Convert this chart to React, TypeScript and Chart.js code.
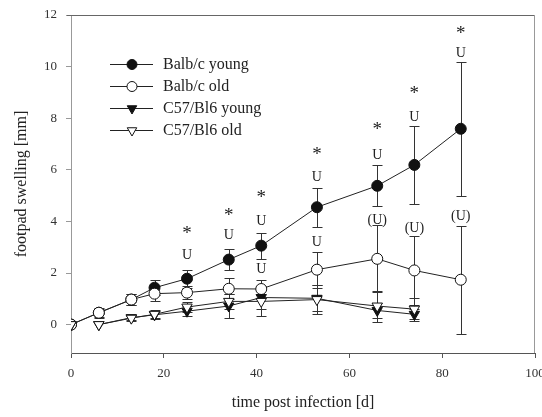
import React, { useEffect, useRef } from "react";
import { Chart, registerables } from "chart.js";

Chart.register(...registerables);

const FONT = "'Liberation Serif', 'Times New Roman', serif";

// ---- data ----
const balbDays = [0, 6, 13, 18, 25, 34, 41, 53, 66, 74, 84];
const balbYoung = [0, 0.46, 0.97, 1.43, 1.78, 2.52, 3.06, 4.55, 5.38, 6.19, 7.59];
const balbYoungErr = [0, 0.2, 0.2, 0.3, 0.35, 0.4, 0.5, 0.75, 0.8, 1.5, 2.6];
const balbOld = [0, 0.46, 0.97, 1.2, 1.24, 1.39, 1.38, 2.13, 2.55, 2.1, 1.74];
const balbOldErr = [0, 0.15, 0.2, 0.3, 0.25, 0.4, 0.35, 0.7, 1.3, 1.35, 2.1];

const c57Days = [0, 6, 13, 18, 25, 34, 41, 53, 66, 74];
const c57Young = [0, 0, 0.27, 0.38, 0.52, 0.72, 1.05, 1.02, 0.55, 0.4];
const c57YoungErr = [0, 0, 0.1, 0.15, 0.2, 0.45, 0.45, 0.5, 0.3, 0.2];
const c57Old = [0, 0, 0.25, 0.4, 0.68, 0.9, 0.9, 0.97, 0.72, 0.6];
const c57OldErr = [0, 0, 0.1, 0.15, 0.2, 0.3, 0.55, 0.55, 0.6, 0.45];

const seriesNames = ["Balb/c young", "Balb/c old", "C57/Bl6 young", "C57/Bl6 old"];

// significance marks
const starDays = [25, 34, 41, 53, 66, 74, 84];
const starLevels = [3.68, 4.37, 5.07, 6.74, 7.7, 9.1, 11.4];
const youngMarkLevels = [2.7, 3.48, 3.99, 5.69, 6.58, 8.05, 10.5];
const youngMarkLabels = ["U", "U", "U", "U", "U", "U", "U"];
const oldMarkDays = [41, 53, 66, 74, 84];
const oldMarkLevels = [2.15, 3.2, 4.05, 3.72, 4.18];
const oldMarkLabels = ["U", "U", "(U)", "(U)", "(U)"];

const xTicks = [0, 20, 40, 60, 80, 100];
const yTicks = [0, 2, 4, 6, 8, 10, 12];

const errorSets = [balbYoungErr, balbOldErr, c57YoungErr, c57OldErr];
const markerSpecs = [
  { shape: "circle", fill: "#111" },
  { shape: "circle", fill: "#fff" },
  { shape: "tri", fill: "#111" },
  { shape: "tri", fill: "#fff" },
];

function drawMarker(ctx: CanvasRenderingContext2D, shape: string, fill: string, x: number, y: number, r: number) {
  ctx.beginPath();
  if (shape === "circle") {
    ctx.arc(x, y, r, 0, Math.PI * 2);
  } else {
    let rad = Math.PI; // pointing down
    ctx.moveTo(x + Math.sin(rad) * r, y - Math.cos(rad) * r);
    rad += (2 * Math.PI) / 3;
    ctx.lineTo(x + Math.sin(rad) * r, y - Math.cos(rad) * r);
    rad += (2 * Math.PI) / 3;
    ctx.lineTo(x + Math.sin(rad) * r, y - Math.cos(rad) * r);
    ctx.closePath();
  }
  ctx.fillStyle = fill;
  ctx.fill();
  ctx.strokeStyle = "#111";
  ctx.lineWidth = 1;
  ctx.stroke();
}

const customPlugin = {
  id: "customDecor",
  beforeDatasetsDraw(chart: any) {
    const ctx = chart.ctx as CanvasRenderingContext2D;
    const xs = chart.scales.x;
    const ys = chart.scales.y;
    ctx.save();
    ctx.strokeStyle = "#333";
    ctx.lineWidth = 1;
    chart.data.datasets.forEach((ds: any, i: number) => {
      const errs = errorSets[i];
      ds.data.forEach((p: any, j: number) => {
        const e = errs[j];
        if (!e) return;
        const px = Math.round(xs.getPixelForValue(p.x)) + 0.5;
        const top = Math.round(ys.getPixelForValue(p.y + e)) + 0.5;
        const bot = Math.round(ys.getPixelForValue(p.y - e)) + 0.5;
        ctx.beginPath();
        ctx.moveTo(px, top);
        ctx.lineTo(px, bot);
        ctx.moveTo(px - 5, top);
        ctx.lineTo(px + 5, top);
        ctx.moveTo(px - 5, bot);
        ctx.lineTo(px + 5, bot);
        ctx.stroke();
      });
    });
    ctx.restore();
  },
  afterDraw(chart: any) {
    const ctx = chart.ctx as CanvasRenderingContext2D;
    const xs = chart.scales.x;
    const ys = chart.scales.y;
    const area = chart.chartArea;
    ctx.save();
    // frame top & right
    ctx.lineWidth = 1;
    ctx.strokeStyle = "#666";
    ctx.beginPath();
    ctx.moveTo(area.left - 4, Math.round(area.top) + 0.5);
    ctx.lineTo(area.right, Math.round(area.top) + 0.5);
    ctx.stroke();
    ctx.strokeStyle = "#999";
    ctx.beginPath();
    ctx.moveTo(Math.round(area.right) - 0.5, area.top);
    ctx.lineTo(Math.round(area.right) - 0.5, area.bottom);
    ctx.stroke();

    // significance marks
    ctx.fillStyle = "#222";
    ctx.textAlign = "center";
    ctx.textBaseline = "middle";
    ctx.font = `19px ${FONT}`;
    starDays.forEach((d, i) => {
      ctx.fillText("*", xs.getPixelForValue(d), ys.getPixelForValue(starLevels[i]) + 4);
    });
    ctx.font = `14px ${FONT}`;
    starDays.forEach((d, i) => {
      ctx.fillText(youngMarkLabels[i], xs.getPixelForValue(d), ys.getPixelForValue(youngMarkLevels[i]));
    });
    oldMarkDays.forEach((d, i) => {
      ctx.fillText(oldMarkLabels[i], xs.getPixelForValue(d), ys.getPixelForValue(oldMarkLevels[i]));
    });

    // legend
    const rowY = [64, 86, 108, 130];
    ctx.textAlign = "left";
    ctx.font = `16px ${FONT}`;
    seriesNames.forEach((name, i) => {
      const y = rowY[i] + 0.5;
      ctx.strokeStyle = "#222";
      ctx.lineWidth = 1;
      ctx.beginPath();
      ctx.moveTo(110, y);
      ctx.lineTo(153, y);
      ctx.stroke();
      const m = markerSpecs[i];
      drawMarker(ctx, m.shape, m.fill, 132, y, m.shape === "circle" ? 5 : 5.5);
      ctx.fillStyle = "#222";
      ctx.fillText(name, 163, rowY[i] + 1);
    });
    ctx.restore();
  },
};

export default function App() {
  const ref = useRef<HTMLCanvasElement | null>(null);

  useEffect(() => {
    if (!ref.current) return;
    const hideFirst = (c: any) => (c.p0DataIndex === 0 ? "rgba(0,0,0,0)" : "#222");
    const chart = new Chart(ref.current, {
      type: "line",
      data: {
        datasets: [
          {
            label: seriesNames[0],
            data: balbDays.map((d, i) => ({ x: d, y: balbYoung[i] })),
            borderColor: "#222",
            borderWidth: 1,
            pointStyle: "circle",
            pointRadius: 5.5,
            pointBackgroundColor: "#111",
            pointBorderColor: "#111",
            pointBorderWidth: 1,
            order: 4,
          },
          {
            label: seriesNames[1],
            data: balbDays.map((d, i) => ({ x: d, y: balbOld[i] })),
            borderColor: "#222",
            borderWidth: 1,
            pointStyle: "circle",
            pointRadius: 5.5,
            pointBackgroundColor: "#fff",
            pointBorderColor: "#111",
            pointBorderWidth: 1,
            order: 3,
          },
          {
            label: seriesNames[2],
            data: c57Days.map((d, i) => ({ x: d, y: c57Young[i] })),
            borderColor: "#222",
            borderWidth: 1,
            pointStyle: "triangle",
            pointRotation: 180,
            pointRadius: 6,
            pointBackgroundColor: "#111",
            pointBorderColor: "#111",
            pointBorderWidth: 1,
            segment: { borderColor: hideFirst },
            order: 2,
          },
          {
            label: seriesNames[3],
            data: c57Days.map((d, i) => ({ x: d, y: c57Old[i] })),
            borderColor: "#222",
            borderWidth: 1,
            pointStyle: "triangle",
            pointRotation: 180,
            pointRadius: 6,
            pointBackgroundColor: "#fff",
            pointBorderColor: "#111",
            pointBorderWidth: 1,
            segment: { borderColor: hideFirst },
            order: 1,
          },
        ] as any,
      },
      options: {
        responsive: false,
        animation: false,
        layout: { padding: { top: 15, right: 7, left: 0, bottom: 0 } },
        plugins: {
          legend: { display: false },
          tooltip: { enabled: false },
        },
        scales: {
          x: {
            type: "linear",
            min: 0,
            max: 100,
            afterBuildTicks: (s: any) => {
              s.ticks = xTicks.map((v) => ({ value: v }));
            },
            afterFit: (s: any) => {
              s.height = 64;
              s.paddingLeft = 0;
              s.paddingRight = 0;
            },
            ticks: {
              font: { family: FONT, size: 13 },
              color: "#333",
              padding: 8,
              maxRotation: 0,
              autoSkip: false,
            },
            grid: { drawOnChartArea: false, drawTicks: true, tickLength: 5, color: "#555" },
            border: { display: true, color: "#555" },
            title: {
              display: true,
              text: "time post infection [d]",
              font: { family: FONT, size: 16 },
              color: "#222",
              padding: { top: 0, bottom: 5 },
            },
          },
          y: {
            type: "linear",
            min: -1.1,
            max: 12,
            afterBuildTicks: (s: any) => {
              s.ticks = yTicks.map((v) => ({ value: v }));
            },
            afterFit: (s: any) => {
              s.width = 71;
              s.paddingTop = 0;
              s.paddingBottom = 0;
            },
            ticks: {
              font: { family: FONT, size: 13 },
              color: "#333",
              padding: 9,
              autoSkip: false,
            },
            grid: { drawOnChartArea: false, drawTicks: true, tickLength: 5, color: "#999" },
            border: { display: true, color: "#999" },
            title: {
              display: true,
              text: "footpad swelling [mm]",
              font: { family: FONT, size: 16 },
              color: "#222",
              padding: { top: 12, bottom: 0 },
            },
          },
        },
      } as any,
      plugins: [customPlugin],
    });
    return () => chart.destroy();
  }, []);

  return (
    <div style={{ position: "absolute", left: 0, top: 0, width: 542, height: 417, background: "#fff" }}>
      <canvas ref={ref} width={542} height={417} style={{ display: "block" }} />
    </div>
  );
}
